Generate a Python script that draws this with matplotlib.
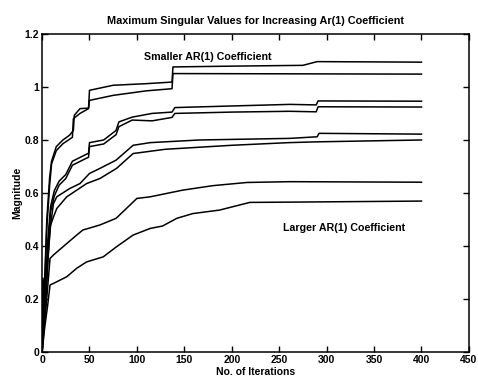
import matplotlib
matplotlib.use("Agg")
import matplotlib.pyplot as plt

plt.rcParams['font.family'] = ['Liberation Sans', 'DejaVu Sans']

# Curve data (iterations, magnitude)
a1_x = [0, 1, 3, 5, 8, 10, 15, 22, 29, 33, 34, 40, 49, 50, 75, 110, 137, 138, 200, 275, 290, 400]
a1_y = [0.0, 0.1, 0.3, 0.5, 0.66, 0.72, 0.775, 0.80, 0.818, 0.836, 0.893, 0.918, 0.92, 0.987, 1.006, 1.012, 1.018, 1.075, 1.078, 1.081, 1.095, 1.093]

a2_x = [0, 1, 3, 5, 8, 10, 15, 22, 32, 33, 40, 49, 50, 75, 110, 137, 138, 400]
a2_y = [0.0, 0.08, 0.27, 0.47, 0.63, 0.71, 0.76, 0.786, 0.81, 0.88, 0.90, 0.918, 0.949, 0.968, 0.985, 0.993, 1.05, 1.048]

b1_x = [0, 1, 3, 6, 9, 13, 18, 25, 32, 46, 49, 50, 65, 78, 81, 95, 116, 137, 140, 200, 261, 289, 291, 400]
b1_y = [0.0, 0.27, 0.2, 0.42, 0.55, 0.61, 0.645, 0.67, 0.72, 0.745, 0.75, 0.79, 0.80, 0.836, 0.868, 0.886, 0.90, 0.905, 0.922, 0.928, 0.934, 0.932, 0.947, 0.946]

b2_x = [0, 1, 3, 6, 9, 13, 18, 25, 32, 46, 49, 50, 65, 78, 81, 95, 116, 137, 140, 200, 261, 289, 291, 400]
b2_y = [0.0, 0.05, 0.15, 0.38, 0.53, 0.59, 0.63, 0.655, 0.705, 0.73, 0.735, 0.775, 0.785, 0.82, 0.85, 0.875, 0.872, 0.885, 0.90, 0.905, 0.908, 0.906, 0.925, 0.924]

c1_x = [0, 1, 3, 6, 9, 12, 15.5, 29, 40, 50, 61, 78, 96, 114, 166, 261, 290, 292, 400]
c1_y = [0.0, 0.28, 0.17, 0.35, 0.48, 0.56, 0.586, 0.617, 0.636, 0.674, 0.693, 0.724, 0.78, 0.79, 0.80, 0.806, 0.812, 0.825, 0.822]

c2_x = [0, 1, 3, 6, 8.4, 12, 15.5, 26, 36.5, 47, 61, 78.5, 96, 130, 200, 260, 290, 400]
c2_y = [0.0, 0.03, 0.14, 0.33, 0.473, 0.51, 0.542, 0.586, 0.611, 0.636, 0.655, 0.693, 0.749, 0.765, 0.78, 0.79, 0.793, 0.80]

d_x = [0, 1, 3, 6, 8.4, 12, 26, 36.5, 43, 61, 78, 100, 114, 148, 180, 216, 261, 400]
d_y = [0.0, 0.2, 0.12, 0.25, 0.354, 0.367, 0.41, 0.442, 0.461, 0.48, 0.505, 0.58, 0.586, 0.611, 0.628, 0.64, 0.643, 0.641]

e_x = [0, 1, 3, 6, 8.4, 12, 26, 36.5, 47, 64.5, 78.5, 96, 114, 127, 142, 159, 187, 208, 219, 261, 400]
e_y = [0.0, 0.04, 0.1, 0.18, 0.254, 0.26, 0.285, 0.317, 0.341, 0.36, 0.398, 0.442, 0.467, 0.476, 0.505, 0.523, 0.536, 0.555, 0.565, 0.566, 0.570]

curves = [(a1_x, a1_y), (a2_x, a2_y), (b1_x, b1_y), (b2_x, b2_y),
          (c1_x, c1_y), (c2_x, c2_y), (d_x, d_y), (e_x, e_y)]

x_ticks = [0, 50, 100, 150, 200, 250, 300, 350, 400, 450]
y_ticks = [0, 0.2, 0.4, 0.6, 0.8, 1.0, 1.2]
y_tick_labels = ['0', '0.2', '0.4', '0.6', '0.8', '1', '1.2']

fig = plt.figure(figsize=(4.78, 3.79), dpi=100)
ax = fig.add_axes([0.088, 0.070, 0.893, 0.841])

for cx, cy in curves:
    ax.plot(cx, cy, color='black', linewidth=1.1)

ax.set_xlim(0, 450)
ax.set_ylim(0, 1.2)
ax.set_xticks(x_ticks)
ax.set_xticklabels([str(t) for t in x_ticks])
ax.set_yticks(y_ticks)
ax.set_yticklabels(y_tick_labels)
ax.tick_params(direction='in', length=4, width=1, top=True, right=True,
               labelsize=7.5, pad=2)
for lab in ax.get_xticklabels() + ax.get_yticklabels():
    lab.set_fontweight('bold')
for s in ax.spines.values():
    s.set_linewidth(1.1)

ax.set_title('Maximum Singular Values for Increasing Ar(1) Coefficient',
             fontsize=7.8, fontweight='bold', pad=7)
ax.set_xlabel('No. of Iterations', fontsize=7.5, fontweight='bold', labelpad=1)
ax.set_ylabel('Magnitude', fontsize=7.5, fontweight='bold', labelpad=2)

ax.text(107, 1.113, 'Smaller AR(1) Coefficient', fontsize=7.7, fontweight='bold',
        va='center', ha='left')
ax.text(254, 0.47, 'Larger AR(1) Coefficient', fontsize=7.7, fontweight='bold',
        va='center', ha='left')

fig.savefig('out.png', dpi=100)
